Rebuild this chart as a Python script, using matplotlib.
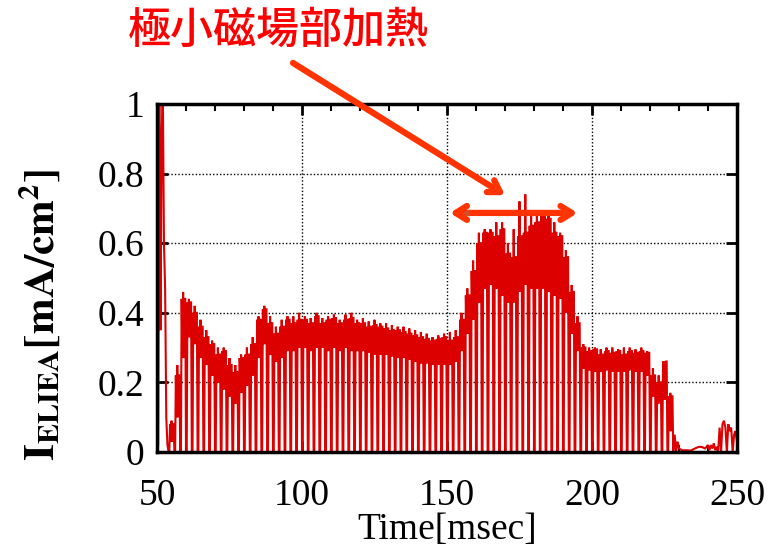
import numpy as np
import matplotlib
matplotlib.use("Agg")
import matplotlib.pyplot as plt
import matplotlib.patheffects as pe

# --- ELIEA current density, start-up transient (t [msec], I [mA/cm^2]) ---
head_t = [50.0, 50.4, 50.8, 51.2, 51.6, 52.0, 52.4, 52.8, 53.2, 53.6]
head_i = [0.00, 0.02, 1.05, 0.35, 0.90, 1.05, 0.60, 0.47, 0.10, 0.02]

# --- modulated part: one entry per 2 ms modulation period starting at 54 ms ---
period_start = 54.0
period_len = 2.0
band_top = [0.08, 0.22, 0.44, 0.43, 0.40, 0.36, 0.33, 0.31, 0.28, 0.29,
            0.25, 0.23, 0.27, 0.28, 0.31, 0.38, 0.41, 0.37, 0.34, 0.36,
            0.38, 0.37, 0.38, 0.38, 0.37, 0.39, 0.37, 0.38, 0.385, 0.37,
            0.38, 0.385, 0.37, 0.37, 0.36, 0.365, 0.36, 0.355, 0.35, 0.35,
            0.345, 0.34, 0.335, 0.33, 0.325, 0.32, 0.325, 0.33, 0.32, 0.33,
            0.38, 0.45, 0.52, 0.60, 0.63, 0.63, 0.62, 0.64, 0.57, 0.56,
            0.62, 0.63, 0.65, 0.66, 0.68, 0.67, 0.63, 0.62, 0.56, 0.46,
            0.37, 0.30, 0.29, 0.295, 0.28, 0.29, 0.285, 0.29, 0.28, 0.29,
            0.285, 0.29, 0.285, 0.22, 0.20, 0.26, 0.16]
band_peak = [0.09, 0.25, 0.46, 0.44, 0.42, 0.38, 0.35, 0.32, 0.30, 0.30,
             0.27, 0.25, 0.28, 0.30, 0.33, 0.39, 0.42, 0.39, 0.36, 0.38,
             0.39, 0.39, 0.40, 0.39, 0.385, 0.40, 0.385, 0.39, 0.395, 0.38,
             0.395, 0.40, 0.38, 0.385, 0.375, 0.38, 0.37, 0.37, 0.365, 0.36,
             0.36, 0.355, 0.35, 0.345, 0.34, 0.33, 0.335, 0.34, 0.345, 0.35,
             0.40, 0.47, 0.55, 0.63, 0.64, 0.64, 0.66, 0.66, 0.60, 0.64,
             0.72, 0.74, 0.68, 0.68, 0.69, 0.69, 0.66, 0.63, 0.58, 0.48,
             0.39, 0.31, 0.30, 0.30, 0.295, 0.30, 0.30, 0.295, 0.30, 0.30,
             0.295, 0.30, 0.29, 0.24, 0.22, 0.26, 0.17]
band_bottom = [0.03, 0.10, 0.27, 0.33, 0.31, 0.27, 0.25, 0.22, 0.20, 0.18,
               0.16, 0.14, 0.17, 0.19, 0.22, 0.27, 0.31, 0.28, 0.26, 0.27,
               0.29, 0.29, 0.30, 0.30, 0.29, 0.30, 0.30, 0.29, 0.30, 0.29,
               0.30, 0.29, 0.29, 0.29, 0.285, 0.28, 0.28, 0.28, 0.275, 0.27,
               0.27, 0.265, 0.26, 0.255, 0.255, 0.25, 0.25, 0.25, 0.25, 0.26,
               0.29, 0.34, 0.38, 0.43, 0.47, 0.48, 0.47, 0.45, 0.43, 0.43,
               0.46, 0.48, 0.47, 0.47, 0.47, 0.46, 0.45, 0.44, 0.40, 0.34,
               0.29, 0.24, 0.235, 0.23, 0.23, 0.235, 0.23, 0.23, 0.23, 0.235,
               0.23, 0.23, 0.22, 0.16, 0.14, 0.15, 0.06]

# --- after the discharge ends ---
tail_t = [228.0, 228.5, 229.0, 229.5, 230.0, 231.0, 232.0, 233.0, 234.0, 235.0,
          236.0, 237.0, 238.0, 239.0, 240.0, 240.5, 241.0, 241.5, 242.0, 242.5,
          243.0, 243.5, 244.0, 244.5, 245.0, 245.5, 246.0, 246.5, 247.0, 247.5,
          248.0, 248.5, 249.0, 249.5, 250.0]
tail_i = [0.00, 0.05, 0.00, 0.03, 0.01, 0.005, 0.005, 0.005, 0.004, 0.008,
          0.012, 0.015, 0.014, 0.010, 0.020, 0.005, 0.020, 0.010, 0.025, 0.005,
          0.015, 0.000, 0.070, 0.000, 0.080, 0.090, 0.070, 0.000, 0.080, 0.060,
          0.070, 0.000, 0.050, 0.060, 0.030]

# heating window of the minimum-B region
heat_start, heat_end = 151.0, 195.0

x_ticks = [50, 100, 150, 200, 250]
y_ticks = [0, 0.2, 0.4, 0.6, 0.8, 1]
y_tick_labels = ["0", "0.2", "0.4", "0.6", "0.8", "1"]

# build the sampled trace: each period dips to zero then oscillates in its band
sub = np.arange(8) * 0.25
t_parts = [np.array(head_t)]
i_parts = [np.array(head_i)]
for k, (hi, pk, lo) in enumerate(zip(band_top, band_peak, band_bottom)):
    t0 = period_start + k * period_len
    t_parts.append(t0 + sub)
    i_parts.append(np.array([0.0, 0.0, hi, lo, pk, lo, hi, hi]))
t_parts.append(np.array(tail_t))
i_parts.append(np.array(tail_i))
t = np.concatenate(t_parts)
cur = np.concatenate(i_parts)

serif = ["Liberation Serif", "DejaVu Serif"]
plt.rcParams["font.family"] = serif
plt.rcParams["mathtext.fontset"] = "stix"

fig = plt.figure(figsize=(7.78, 5.48), dpi=100)
ax = fig.add_axes([157 / 778, 96 / 548, 580 / 778, 348 / 548])

ax.plot(t, cur, color="#dc0000", lw=1.5, solid_joinstyle="miter", zorder=3)

ax.set_xlim(50, 250)
ax.set_ylim(0, 1)
ax.set_xticks(x_ticks)
ax.set_xticks(np.arange(50, 251, 10), minor=True)
ax.set_yticks(y_ticks)
ax.set_yticklabels(y_tick_labels)
ax.grid(True, which="major", color="black", lw=1.0, linestyle=(0, (1, 1.5)), zorder=1)
ax.tick_params(which="major", direction="in", length=8, width=2,
               top=True, right=True, labelsize=27)
ax.tick_params(axis="x", which="major", pad=19)
ax.tick_params(axis="y", which="major", pad=9)
ax.tick_params(which="minor", direction="in", length=5, width=1.5,
               top=True, right=True)
for s in ax.spines.values():
    s.set_linewidth(2.5)
    s.set_zorder(4)

ax.set_xlabel("Time[msec]", fontsize=27, labelpad=0)
fig.text(40 / 778, 1 - 315 / 548, r"$\mathbf{I_{ELIEA}[mA/cm^2]}$",
         rotation=90, ha="center", va="center", fontsize=31)

# annotation
fig.text(278 / 778, 1 - 30 / 548, "極小磁場部加熱", color="#ff0000",
         fontsize=31, ha="center", va="center", fontweight="medium",
         family=["Noto Sans CJK JP", "DejaVu Sans"])

arrow_col = "#ff3300"
shadow = [pe.withSimplePatchShadow(offset=(2, -2), shadow_rgbFace="gray", alpha=0.35)]
ax.annotate("", xy=(170.0, 0.738), xytext=(96.9, 1.118),
            arrowprops=dict(arrowstyle="->,head_length=0.8,head_width=0.5",
                            color=arrow_col, lw=4.5, shrinkA=0, shrinkB=0,
                            path_effects=shadow),
            annotation_clip=False, zorder=6)
ax.annotate("", xy=(heat_end, 0.687), xytext=(heat_start, 0.687),
            arrowprops=dict(arrowstyle="<->,head_length=0.8,head_width=0.5",
                            color=arrow_col, lw=4.5, shrinkA=0, shrinkB=0,
                            path_effects=shadow),
            annotation_clip=False, zorder=6)

fig.savefig("out.png", dpi=100)
